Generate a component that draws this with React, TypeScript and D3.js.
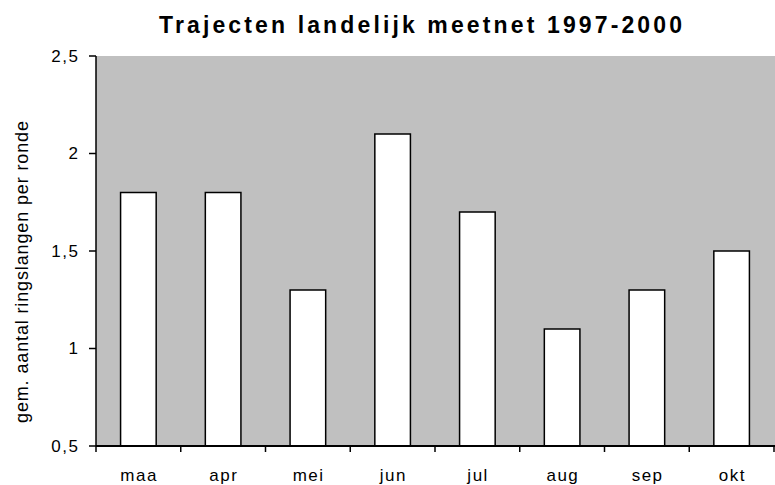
import React from "react";
import * as d3 from "d3";

const months = ["maa", "apr", "mei", "jun", "jul", "aug", "sep", "okt"];
const values = [1.8, 1.8, 1.3, 2.1, 1.7, 1.1, 1.3, 1.5];
const yTicks = [0.5, 1, 1.5, 2, 2.5];

const WIDTH = 775;
const HEIGHT = 485;
const MARGIN = { top: 56, right: 1, bottom: 39, left: 96 };
const FONT = "Arial, 'Liberation Sans', sans-serif";
const TICK_LS = 1.5;

const App = () => {
    const boundsWidth = WIDTH - MARGIN.left - MARGIN.right;
    const boundsHeight = HEIGHT - MARGIN.top - MARGIN.bottom;

    const xScale = d3.scaleBand()
        .domain(months)
        .range([0, boundsWidth])
        .paddingInner(0.58)
        .paddingOuter(0.29);
    const step = xScale.step();

    const yScale = d3.scaleLinear().domain([0.5, 2.5]).range([boundsHeight, 0]);

    return (
        <svg
            width={WIDTH}
            height={HEIGHT}
            style={{ position: "absolute", left: 0, top: 0, background: "#fff" }}
        >
            <text
                x={159}
                y={33}
                fontFamily={FONT}
                fontWeight="bold"
                fontSize={23}
                textLength={523}
                lengthAdjust="spacing"
            >
                Trajecten landelijk meetnet 1997-2000
            </text>
            <text
                transform={`translate(28,272) rotate(-90)`}
                textAnchor="middle"
                fontFamily={FONT}
                fontSize={18}
                textLength={302}
                lengthAdjust="spacing"
            >
                gem. aantal ringslangen per ronde
            </text>
            <g transform={`translate(${MARGIN.left},${MARGIN.top})`}>
                <rect x={0} y={0} width={boundsWidth + 2} height={boundsHeight} fill="#c0c0c0" />
                {values.map((v, i) => (
                    <rect
                        key={months[i]}
                        x={xScale(months[i]) ?? 0}
                        y={yScale(v)}
                        width={xScale.bandwidth()}
                        height={boundsHeight - yScale(v)}
                        fill="#fff"
                        stroke="#000"
                        strokeWidth={1.5}
                    />
                ))}
                <line x1={0} x2={0} y1={0} y2={boundsHeight} stroke="#000" strokeWidth={1.5} />
                <line x1={0} x2={boundsWidth + 2} y1={boundsHeight} y2={boundsHeight} stroke="#000" strokeWidth={2} />
                {yTicks.map((t) => (
                    <g key={t} transform={`translate(0,${yScale(t)})`}>
                        <line x1={-7} x2={0} stroke="#000" strokeWidth={1.5} />
                        <text
                            x={78 - MARGIN.left + TICK_LS}
                            dy="0.33em"
                            textAnchor="end"
                            fontFamily={FONT}
                            fontSize={17}
                            letterSpacing={TICK_LS}
                        >
                            {d3.format(".1~f")(t).replace(".", ",")}
                        </text>
                    </g>
                ))}
                {d3.range(months.length + 1).map((i) => (
                    <line
                        key={i}
                        x1={i * step}
                        x2={i * step}
                        y1={boundsHeight}
                        y2={boundsHeight + 6}
                        stroke="#000"
                        strokeWidth={1.5}
                    />
                ))}
                {months.map((m) => (
                    <text
                        key={m}
                        x={(xScale(m) ?? 0) + xScale.bandwidth() / 2 + 0.75}
                        y={boundsHeight + 35}
                        textAnchor="middle"
                        fontFamily={FONT}
                        fontSize={17}
                        letterSpacing={1.5}
                    >
                        {m}
                    </text>
                ))}
            </g>
        </svg>
    );
};

export default App;
